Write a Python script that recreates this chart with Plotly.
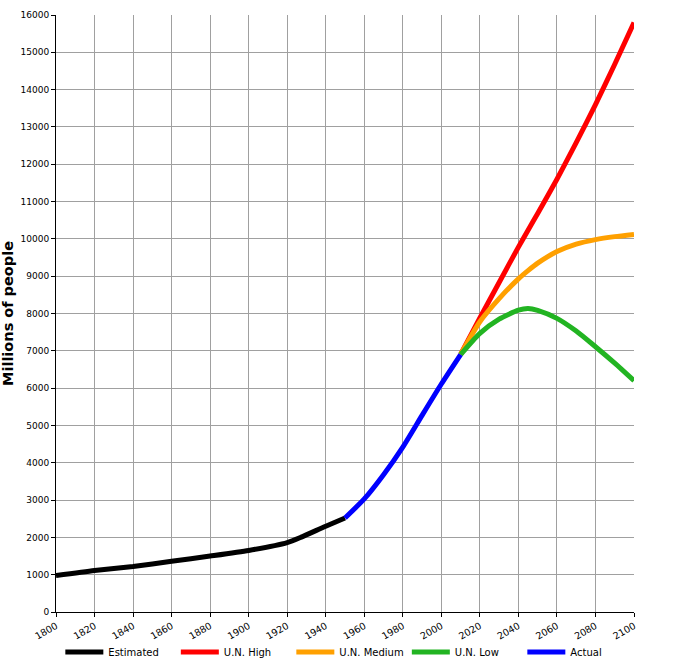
import plotly.graph_objects as go

# Data (millions of people)
est_years = [1800, 1820, 1840, 1860, 1880, 1900, 1920, 1927, 1940, 1950]
est_vals = [975, 1110, 1220, 1360, 1500, 1650, 1860, 2000, 2300, 2520]

act_years = [1950, 1960, 1970, 1980, 1990, 2000, 2010]
act_vals = [2520, 3030, 3680, 4420, 5270, 6110, 6900]

proj_years = [2010, 2020, 2030, 2040, 2045, 2050, 2060, 2070, 2080, 2090, 2100]
high_vals = [6900, 7880, 8830, 9780, 10230, 10680, 11600, 12580, 13600, 14680, 15800]
med_vals = [6900, 7780, 8400, 8930, 9150, 9350, 9660, 9860, 9980, 10060, 10120]
low_vals = [6900, 7470, 7850, 8090, 8135, 8085, 7870, 7530, 7110, 6670, 6200]

x_ticks = list(range(1800, 2101, 20))
y_ticks = list(range(0, 16001, 1000))

LW = 5
fig = go.Figure()
fig.add_trace(go.Scatter(x=est_years, y=est_vals, mode="lines", name="Estimated",
                         line=dict(color="#000000", width=LW, shape="spline", smoothing=0.6)))
fig.add_trace(go.Scatter(x=proj_years, y=high_vals, mode="lines", name="U.N. High",
                         line=dict(color="#ff0000", width=LW, shape="spline", smoothing=0.6)))
fig.add_trace(go.Scatter(x=proj_years, y=med_vals, mode="lines", name="U.N. Medium",
                         line=dict(color="#ffa000", width=LW, shape="spline", smoothing=0.6)))
fig.add_trace(go.Scatter(x=proj_years, y=low_vals, mode="lines", name="U.N. Low",
                         line=dict(color="#22b422", width=LW, shape="spline", smoothing=0.6)))
fig.add_trace(go.Scatter(x=act_years, y=act_vals, mode="lines", name="Actual",
                         line=dict(color="#0000ff", width=LW, shape="spline", smoothing=0.6)))

fig.update_layout(
    width=676, height=669,
    margin=dict(l=56, r=42, t=15, b=57, autoexpand=False),
    paper_bgcolor="white", plot_bgcolor="white",
    font=dict(family="DejaVu Sans", size=9, color="#000000"),
    showlegend=True,
    legend=dict(orientation="h", x=0.0075, xanchor="left", y=-0.067, yanchor="middle",
                font=dict(size=10), itemwidth=38, entrywidth=62.5, entrywidthmode="pixels",
                traceorder="normal", bgcolor="rgba(0,0,0,0)"),
)
fig.update_xaxes(range=[1800, 2100], tickvals=x_ticks, ticktext=[str(t) for t in x_ticks],
                 tickangle=-30, tickfont=dict(size=9.5), showgrid=True, gridcolor="#a0a0a0", gridwidth=1,
                 showline=True, linecolor="#000000", linewidth=1,
                 ticks="outside", ticklen=4, tickcolor="#000000", zeroline=False,
                 automargin=False)
fig.update_yaxes(range=[0, 16000], tickvals=y_ticks, ticktext=[str(t) for t in y_ticks],
                 showgrid=True, gridcolor="#a0a0a0", gridwidth=1,
                 showline=True, linecolor="#000000", linewidth=1,
                 ticks="outside", ticklen=4, tickcolor="#000000", zeroline=False,
                 automargin=False,
                 title=dict(text="<b>Millions of people</b>", font=dict(size=14.5), standoff=10))

fig.write_html("out.html", config={"displayModeBar": False},
               post_script="document.body.style.margin='0px';")
